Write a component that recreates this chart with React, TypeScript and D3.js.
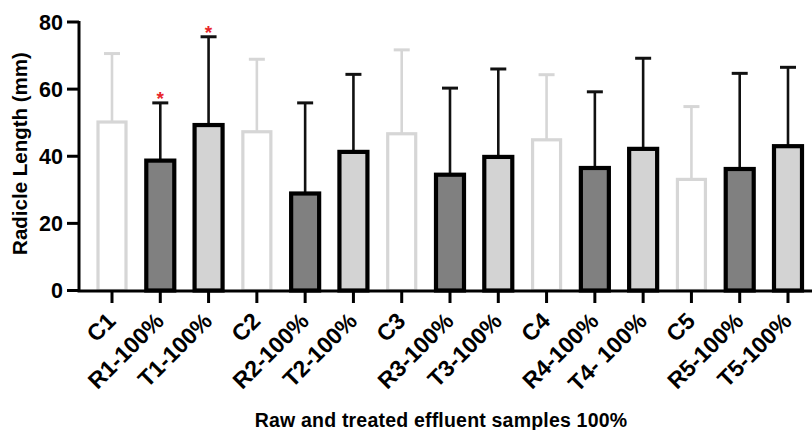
import React from 'react';
import * as d3 from 'd3';

const samples = ['C1', 'R1-100%', 'T1-100%', 'C2', 'R2-100%', 'T2-100%', 'C3', 'R3-100%', 'T3-100%', 'C4', 'R4-100%', 'T4- 100%', 'C5', 'R5-100%', 'T5-100%'];
const means = [50.2, 38.7, 49.3, 47.3, 28.9, 41.3, 46.7, 34.5, 39.8, 44.9, 36.5, 42.2, 33.1, 36.2, 43.0];
const upper = [70.6, 55.9, 75.6, 68.9, 55.9, 64.4, 71.7, 60.3, 66.0, 64.3, 59.2, 69.2, 54.8, 64.7, 66.5];
const groups = ['C', 'R', 'T', 'C', 'R', 'T', 'C', 'R', 'T', 'C', 'R', 'T', 'C', 'R', 'T'];
const starred = ['R1-100%', 'T1-100%'];
const yTicks = [0, 20, 40, 60, 80];

const W = 812, H = 430;
const font = '"Liberation Sans", Arial, sans-serif';

const fillOf = { C: '#ffffff', R: '#808080', T: '#d3d3d3' };
const strokeOf = { C: '#d6d6d6', R: '#000000', T: '#000000' };
const errOf = { C: '#d6d6d6', R: '#111111', T: '#111111' };

// 45 degree counter-clockwise, as an explicit matrix
const c45 = Math.SQRT1_2;

export default function App() {
  const x = d3.scalePoint<string>().domain(samples).range([112, 788]);
  const y = d3.scaleLinear().domain([0, 80]).range([290.5, 22]);
  const barW = 28;
  const capW = 16;

  return (
    <div style={{ position: 'absolute', left: 0, top: 0, background: '#fff' }}>
      <svg width={W} height={H} style={{ display: 'block', fontFamily: font }}>
        {samples.map((s, i) => {
          const g = groups[i];
          const cx = x(s)!;
          const sw = g === 'C' ? 3.2 : 4.2;
          return (
            <g key={s}>
              <line x1={cx} x2={cx} y1={y(means[i])} y2={y(upper[i])} stroke={errOf[g]} strokeWidth={2.6} />
              <line x1={cx - capW / 2} x2={cx + capW / 2} y1={y(upper[i])} y2={y(upper[i])} stroke={errOf[g]} strokeWidth={3} />
              <rect x={cx - barW / 2} y={y(means[i])} width={barW} height={y(0) - y(means[i])}
                fill={fillOf[g]} stroke={strokeOf[g]} strokeWidth={sw} />
              {starred.includes(s) && (
                <text x={cx} y={y(upper[i]) + 2} textAnchor="middle" fontSize={19} fill="#e8262b" fontWeight="bold">*</text>
              )}
            </g>
          );
        })}
        {/* axes */}
        <line x1={79} x2={79} y1={21} y2={292} stroke="#000" strokeWidth={3} />
        <line x1={77.5} x2={812} y1={291} y2={291} stroke="#000" strokeWidth={3} />
        {yTicks.map(t => (
          <g key={t}>
            <line x1={67} x2={79} y1={y(t)} y2={y(t)} stroke="#000" strokeWidth={3} />
            <text x={63} y={y(t) + 7.5} textAnchor="end" fontSize={21.5} fontWeight="bold">{t}</text>
          </g>
        ))}
        {samples.map(s => (
          <g key={'t' + s}>
            <line x1={x(s)} x2={x(s)} y1={291} y2={303} stroke="#000" strokeWidth={3} />
            <text transform={`matrix(${c45},${-c45},${c45},${c45},${x(s)! + 5},322.5)`}
              textAnchor="end" fontSize={23} fontWeight="bold">{s}</text>
          </g>
        ))}
        <text transform="translate(27,153.5) rotate(-90)" textAnchor="middle" fontSize={20.5} fontWeight="bold">Radicle Length (mm)</text>
        <text x={441} y={427} textAnchor="middle" fontSize={19.5} letterSpacing={0.2} fontWeight="bold">Raw and treated effluent samples 100%</text>
      </svg>
    </div>
  );
}
